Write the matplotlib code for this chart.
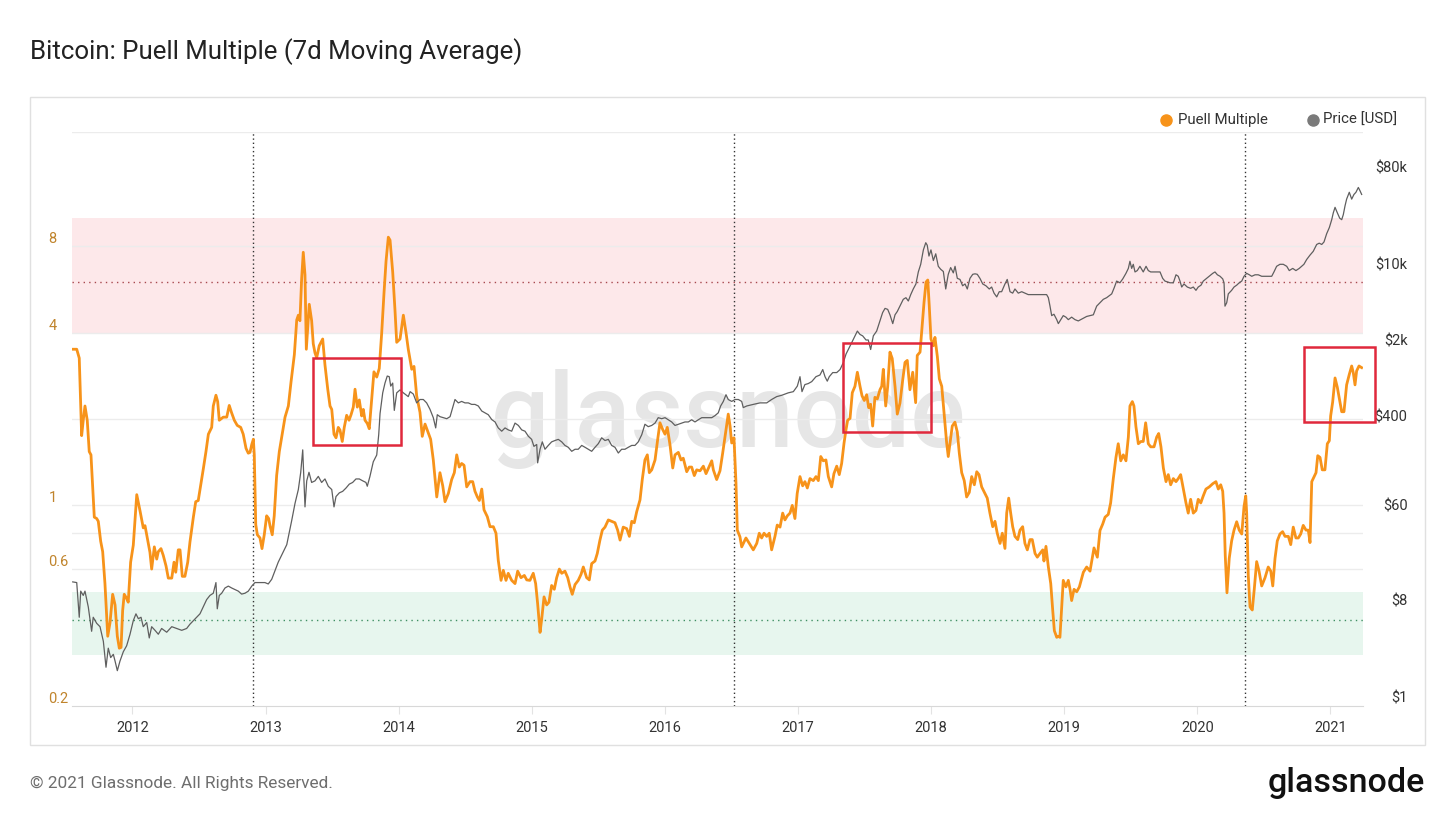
import numpy as np
import matplotlib
matplotlib.use('Agg')
import matplotlib.pyplot as plt
from matplotlib.patches import Rectangle
from matplotlib.lines import Line2D

plt.rcParams['font.family'] = ['Roboto', 'DejaVu Sans']

# Puell Multiple (7d MA): decimal year, value
puell_year = [
    2011.555, 2011.581, 2011.600, 2011.618, 2011.630, 2011.643, 2011.660, 2011.675, 2011.688, 2011.713,
    2011.731, 2011.743, 2011.761, 2011.776, 2011.793, 2011.814, 2011.831, 2011.851, 2011.869, 2011.886,
    2011.901, 2011.914, 2011.926, 2011.938, 2011.956, 2011.968, 2011.986, 2012.006, 2012.032, 2012.056,
    2012.081, 2012.094, 2012.111, 2012.131, 2012.144, 2012.164, 2012.182, 2012.194, 2012.214, 2012.231,
    2012.252, 2012.269, 2012.295, 2012.312, 2012.325, 2012.344, 2012.357, 2012.374, 2012.394, 2012.415,
    2012.432, 2012.457, 2012.475, 2012.494, 2012.512, 2012.532, 2012.552, 2012.570, 2012.595, 2012.607,
    2012.627, 2012.640, 2012.652, 2012.682, 2012.708, 2012.727, 2012.745, 2012.765, 2012.787, 2012.813,
    2012.832, 2012.853, 2012.870, 2012.883, 2012.896, 2012.908, 2012.915, 2012.926, 2012.938, 2012.958,
    2012.973, 2012.990, 2013.008, 2013.023, 2013.033, 2013.050, 2013.065, 2013.083, 2013.103, 2013.125,
    2013.146, 2013.171, 2013.191, 2013.216, 2013.234, 2013.246, 2013.258, 2013.271, 2013.283, 2013.296,
    2013.306, 2013.328, 2013.346, 2013.358, 2013.371, 2013.384, 2013.403, 2013.429, 2013.446, 2013.467,
    2013.484, 2013.497, 2013.514, 2013.529, 2013.546, 2013.559, 2013.576, 2013.591, 2013.609, 2013.627,
    2013.642, 2013.659, 2013.672, 2013.689, 2013.704, 2013.722, 2013.734, 2013.747, 2013.764, 2013.779,
    2013.797, 2013.814, 2013.835, 2013.854, 2013.872, 2013.890, 2013.905, 2013.922, 2013.935, 2013.955,
    2013.972, 2013.985, 2014.010, 2014.035, 2014.055, 2014.072, 2014.098, 2014.115, 2014.135, 2014.160,
    2014.177, 2014.198, 2014.222, 2014.240, 2014.260, 2014.286, 2014.310, 2014.331, 2014.348, 2014.373,
    2014.398, 2014.418, 2014.436, 2014.455, 2014.473, 2014.491, 2014.511, 2014.536, 2014.556, 2014.573,
    2014.591, 2014.606, 2014.624, 2014.641, 2014.666, 2014.686, 2014.711, 2014.731, 2014.748, 2014.769,
    2014.786, 2014.806, 2014.823, 2014.849, 2014.874, 2014.894, 2014.919, 2014.944, 2014.962, 2014.986,
    2015.011, 2015.029, 2015.044, 2015.062, 2015.074, 2015.092, 2015.112, 2015.129, 2015.149, 2015.169,
    2015.187, 2015.207, 2015.225, 2015.249, 2015.270, 2015.287, 2015.304, 2015.325, 2015.349, 2015.370,
    2015.387, 2015.412, 2015.432, 2015.450, 2015.475, 2015.492, 2015.512, 2015.530, 2015.550, 2015.575,
    2015.600, 2015.625, 2015.645, 2015.663, 2015.687, 2015.713, 2015.733, 2015.751, 2015.770, 2015.788,
    2015.813, 2015.830, 2015.850, 2015.868, 2015.883, 2015.901, 2015.926, 2015.946, 2015.963, 2015.983,
    2016.001, 2016.018, 2016.038, 2016.059, 2016.076, 2016.101, 2016.121, 2016.138, 2016.164, 2016.183,
    2016.201, 2016.221, 2016.239, 2016.264, 2016.289, 2016.309, 2016.331, 2016.352, 2016.364, 2016.389,
    2016.414, 2016.434, 2016.452, 2016.476, 2016.489, 2016.502, 2016.519, 2016.534, 2016.544, 2016.564,
    2016.577, 2016.589, 2016.609, 2016.634, 2016.664, 2016.690, 2016.709, 2016.727, 2016.745, 2016.765,
    2016.784, 2016.802, 2016.827, 2016.844, 2016.865, 2016.885, 2016.902, 2016.920, 2016.940, 2016.957,
    2016.977, 2016.994, 2017.015, 2017.035, 2017.052, 2017.070, 2017.090, 2017.115, 2017.135, 2017.153,
    2017.171, 2017.190, 2017.210, 2017.228, 2017.253, 2017.270, 2017.291, 2017.310, 2017.328, 2017.346,
    2017.361, 2017.373, 2017.391, 2017.408, 2017.428, 2017.446, 2017.466, 2017.481, 2017.498, 2017.516,
    2017.531, 2017.546, 2017.561, 2017.578, 2017.596, 2017.616, 2017.629, 2017.641, 2017.659, 2017.674,
    2017.691, 2017.708, 2017.729, 2017.746, 2017.766, 2017.786, 2017.804, 2017.821, 2017.841, 2017.862,
    2017.884, 2017.896, 2017.917, 2017.929, 2017.947, 2017.962, 2017.975, 2017.986, 2017.999, 2018.017,
    2018.029, 2018.047, 2018.062, 2018.080, 2018.097, 2018.117, 2018.129, 2018.142, 2018.159, 2018.179,
    2018.197, 2018.212, 2018.230, 2018.249, 2018.267, 2018.287, 2018.305, 2018.325, 2018.343, 2018.360,
    2018.380, 2018.405, 2018.422, 2018.442, 2018.463, 2018.480, 2018.497, 2018.518, 2018.535, 2018.555,
    2018.568, 2018.583, 2018.598, 2018.613, 2018.630, 2018.651, 2018.668, 2018.688, 2018.705, 2018.723,
    2018.743, 2018.760, 2018.781, 2018.798, 2018.818, 2018.839, 2018.848, 2018.863, 2018.881, 2018.899,
    2018.914, 2018.926, 2018.944, 2018.956, 2018.968, 2018.981, 2018.993, 2019.013, 2019.031, 2019.044,
    2019.056, 2019.074, 2019.094, 2019.114, 2019.144, 2019.169, 2019.194, 2019.224, 2019.249, 2019.269,
    2019.289, 2019.307, 2019.331, 2019.349, 2019.369, 2019.389, 2019.406, 2019.425, 2019.444, 2019.464,
    2019.482, 2019.494, 2019.512, 2019.524, 2019.539, 2019.557, 2019.577, 2019.594, 2019.612, 2019.632,
    2019.650, 2019.675, 2019.695, 2019.710, 2019.727, 2019.745, 2019.765, 2019.782, 2019.800, 2019.820,
    2019.840, 2019.857, 2019.875, 2019.895, 2019.915, 2019.932, 2019.950, 2019.970, 2019.990, 2020.007,
    2020.026, 2020.045, 2020.065, 2020.090, 2020.116, 2020.140, 2020.158, 2020.176, 2020.191, 2020.201,
    2020.210, 2020.223, 2020.240, 2020.258, 2020.276, 2020.296, 2020.315, 2020.334, 2020.351, 2020.364,
    2020.371, 2020.383, 2020.396, 2020.413, 2020.428, 2020.446, 2020.464, 2020.484, 2020.509, 2020.533,
    2020.552, 2020.567, 2020.584, 2020.601, 2020.621, 2020.641, 2020.659, 2020.684, 2020.702, 2020.721,
    2020.741, 2020.759, 2020.777, 2020.796, 2020.817, 2020.834, 2020.847, 2020.860, 2020.871, 2020.892,
    2020.905, 2020.922, 2020.939, 2020.959, 2020.977, 2020.992, 2021.002, 2021.017, 2021.035, 2021.052,
    2021.072, 2021.085, 2021.102, 2021.122, 2021.142, 2021.160, 2021.172, 2021.185, 2021.197, 2021.215,
    2021.235,
]
puell_val = [
    3.5, 3.5, 3.26, 1.75, 1.98, 2.22, 1.98, 1.54, 1.50, 0.91,
    0.90, 0.88, 0.75, 0.69, 0.535, 0.35, 0.39, 0.49, 0.45, 0.35,
    0.318, 0.32, 0.43, 0.49, 0.474, 0.46, 0.634, 0.727, 1.09, 0.96,
    0.835, 0.85, 0.77, 0.687, 0.60, 0.717, 0.65, 0.69, 0.707, 0.67,
    0.615, 0.558, 0.558, 0.634, 0.585, 0.70, 0.70, 0.566, 0.566, 0.634,
    0.747, 0.908, 1.03, 1.04, 1.17, 1.34, 1.54, 1.77, 1.87, 2.22,
    2.42, 2.3, 1.98, 2.03, 2.03, 2.23, 2.1, 1.98, 1.90, 1.87,
    1.77, 1.58, 1.52, 1.53, 1.63, 1.70, 1.5, 0.858, 0.79, 0.77,
    0.707, 0.79, 0.92, 0.90, 0.85, 0.79, 0.92, 1.27, 1.54, 1.77,
    2.03, 2.22, 2.69, 3.35, 4.43, 4.6, 4.4, 6.18, 7.62, 6.36,
    3.5, 5.02, 4.4, 3.66, 3.4, 3.27, 3.6, 3.8, 3.09, 2.54,
    2.22, 2.16, 1.77, 1.72, 1.87, 1.83, 1.67, 1.87, 2.06, 1.98,
    2.07, 2.2, 2.54, 2.2, 2.33, 2.05, 2.16, 1.98, 1.93, 1.85,
    2.33, 2.92, 2.8, 3.0, 3.97, 5.53, 7.1, 8.6, 8.4, 6.5,
    4.8, 3.7, 3.8, 4.6, 4.0, 3.5, 2.98, 3.05, 2.41, 2.11,
    1.74, 1.92, 1.79, 1.70, 1.44, 1.07, 1.30, 1.17, 1.03, 1.10,
    1.23, 1.30, 1.50, 1.36, 1.40, 1.38, 1.16, 1.21, 1.21, 1.12,
    1.07, 1.04, 1.14, 0.965, 0.913, 0.843, 0.843, 0.80, 0.644, 0.548,
    0.594, 0.548, 0.58, 0.548, 0.534, 0.59, 0.56, 0.57, 0.55, 0.548,
    0.58, 0.534, 0.454, 0.361, 0.40, 0.48, 0.45, 0.46, 0.526, 0.51,
    0.56, 0.60, 0.58, 0.59, 0.56, 0.52, 0.49, 0.53, 0.548, 0.575,
    0.61, 0.56, 0.55, 0.627, 0.64, 0.68, 0.757, 0.82, 0.84, 0.89,
    0.88, 0.87, 0.82, 0.757, 0.84, 0.83, 0.78, 0.88, 0.87, 0.95,
    1.045, 1.23, 1.44, 1.50, 1.30, 1.33, 1.44, 1.70, 1.94, 1.84,
    1.77, 1.87, 1.63, 1.35, 1.5, 1.53, 1.44, 1.46, 1.31, 1.36,
    1.36, 1.27, 1.33, 1.32, 1.37, 1.29, 1.36, 1.43, 1.33, 1.23,
    1.32, 1.52, 1.74, 2.08, 1.9, 1.65, 1.72, 1.2, 0.82, 0.777,
    0.717, 0.737, 0.77, 0.737, 0.70, 0.737, 0.80, 0.77, 0.80, 0.78,
    0.80, 0.70, 0.78, 0.854, 0.84, 0.94, 0.89, 0.92, 0.94, 1.0,
    0.90, 1.10, 1.26, 1.17, 1.21, 1.15, 1.24, 1.22, 1.26, 1.22,
    1.48, 1.43, 1.44, 1.26, 1.16, 1.29, 1.37, 1.28, 1.40, 1.65,
    1.84, 1.98, 2.01, 2.47, 2.6, 2.91, 2.6, 2.41, 2.32, 2.43,
    2.19, 2.25, 1.89, 2.38, 2.35, 2.53, 2.6, 2.98, 2.22, 2.6,
    3.42, 3.25, 2.6, 2.08, 2.27, 2.72, 3.15, 3.2, 2.53, 2.91,
    2.28, 3.33, 3.42, 4.0, 5.1, 6.0, 6.1, 4.98, 3.8, 3.6,
    3.85, 3.3, 2.76, 2.6, 2.1, 1.65, 1.48, 1.65, 1.89, 1.95,
    1.8, 1.52, 1.30, 1.22, 1.07, 1.11, 1.26, 1.18, 1.31, 1.28,
    1.16, 1.1, 1.06, 0.94, 0.843, 0.88, 0.80, 0.737, 0.80, 0.708,
    0.94, 1.06, 0.94, 0.843, 0.78, 0.76, 0.82, 0.843, 0.737, 0.70,
    0.76, 0.76, 0.68, 0.66, 0.68, 0.70, 0.64, 0.72, 0.61, 0.534,
    0.43, 0.366, 0.347, 0.35, 0.347, 0.44, 0.548, 0.52, 0.548, 0.51,
    0.466, 0.51, 0.50, 0.52, 0.585, 0.61, 0.59, 0.711, 0.66, 0.818,
    0.86, 0.91, 0.93, 1.02, 1.24, 1.47, 1.64, 1.43, 1.50, 1.43,
    1.73, 2.22, 2.3, 2.22, 1.88, 1.64, 1.67, 1.67, 1.94, 1.64,
    1.60, 1.60, 1.73, 1.78, 1.60, 1.35, 1.21, 1.28, 1.18, 1.24,
    1.21, 1.24, 1.28, 1.14, 1.02, 0.94, 1.05, 0.94, 0.96, 1.05,
    1.02, 1.08, 1.14, 1.16, 1.19, 1.21, 1.14, 1.18, 1.12, 0.94,
    0.67, 0.496, 0.654, 0.752, 0.82, 0.877, 0.82, 0.795, 0.99, 1.08,
    0.94, 0.57, 0.443, 0.432, 0.51, 0.637, 0.59, 0.524, 0.56, 0.61,
    0.59, 0.524, 0.654, 0.752, 0.795, 0.81, 0.78, 0.78, 0.73, 0.84,
    0.77, 0.77, 0.795, 0.852, 0.82, 0.82, 0.742, 1.21, 1.24, 1.30,
    1.49, 1.47, 1.33, 1.33, 1.64, 1.68, 2.05, 2.29, 2.78, 2.58,
    2.29, 2.12, 2.12, 2.63, 2.86, 3.06, 2.9, 2.63, 2.94, 3.06,
    3.02,
]

# BTC price [USD]: decimal year, value
price_year = [
    2011.551, 2011.581, 2011.600, 2011.611, 2011.630, 2011.643, 2011.668, 2011.693, 2011.705, 2011.731,
    2011.756, 2011.781, 2011.801, 2011.818, 2011.836, 2011.856, 2011.869, 2011.886, 2011.906, 2011.931,
    2011.956, 2011.981, 2012.006, 2012.026, 2012.044, 2012.064, 2012.081, 2012.107, 2012.126, 2012.144,
    2012.169, 2012.194, 2012.219, 2012.257, 2012.295, 2012.332, 2012.370, 2012.407, 2012.432, 2012.457,
    2012.482, 2012.507, 2012.532, 2012.557, 2012.582, 2012.607, 2012.627, 2012.637, 2012.652, 2012.670,
    2012.695, 2012.720, 2012.745, 2012.770, 2012.795, 2012.820, 2012.845, 2012.870, 2012.896, 2012.920,
    2012.958, 2012.995, 2013.020, 2013.046, 2013.071, 2013.095, 2013.121, 2013.159, 2013.196, 2013.221,
    2013.246, 2013.264, 2013.279, 2013.288, 2013.296, 2013.309, 2013.326, 2013.346, 2013.371, 2013.396,
    2013.421, 2013.446, 2013.471, 2013.497, 2013.514, 2013.529, 2013.554, 2013.579, 2013.604, 2013.629,
    2013.654, 2013.679, 2013.704, 2013.730, 2013.754, 2013.764, 2013.784, 2013.809, 2013.835, 2013.850,
    2013.860, 2013.880, 2013.897, 2013.914, 2013.929, 2013.940, 2013.955, 2013.967, 2013.985, 2014.010,
    2014.035, 2014.072, 2014.086, 2014.110, 2014.135, 2014.160, 2014.185, 2014.210, 2014.235, 2014.260,
    2014.278, 2014.290, 2014.310, 2014.335, 2014.361, 2014.386, 2014.406, 2014.423, 2014.448, 2014.473,
    2014.498, 2014.523, 2014.548, 2014.573, 2014.598, 2014.624, 2014.648, 2014.673, 2014.699, 2014.724,
    2014.748, 2014.774, 2014.799, 2014.823, 2014.849, 2014.874, 2014.899, 2014.924, 2014.949, 2014.974,
    2014.999, 2015.016, 2015.037, 2015.044, 2015.062, 2015.079, 2015.099, 2015.124, 2015.149, 2015.174,
    2015.199, 2015.225, 2015.249, 2015.274, 2015.300, 2015.325, 2015.349, 2015.375, 2015.400, 2015.424,
    2015.450, 2015.475, 2015.500, 2015.525, 2015.550, 2015.575, 2015.600, 2015.625, 2015.650, 2015.675,
    2015.700, 2015.725, 2015.751, 2015.775, 2015.800, 2015.826, 2015.850, 2015.875, 2015.901, 2015.926,
    2015.950, 2015.976, 2016.001, 2016.025, 2016.051, 2016.076, 2016.101, 2016.126, 2016.151, 2016.176,
    2016.201, 2016.226, 2016.251, 2016.277, 2016.301, 2016.326, 2016.352, 2016.376, 2016.401, 2016.419,
    2016.439, 2016.459, 2016.476, 2016.502, 2016.527, 2016.552, 2016.577, 2016.589, 2016.615, 2016.664,
    2016.715, 2016.765, 2016.802, 2016.840, 2016.877, 2016.927, 2016.965, 2016.995, 2017.015, 2017.030,
    2017.052, 2017.077, 2017.103, 2017.135, 2017.165, 2017.186, 2017.203, 2017.220, 2017.235, 2017.261,
    2017.291, 2017.316, 2017.340, 2017.361, 2017.378, 2017.403, 2017.428, 2017.446, 2017.466, 2017.486,
    2017.511, 2017.528, 2017.546, 2017.566, 2017.591, 2017.616, 2017.636, 2017.654, 2017.674, 2017.691,
    2017.712, 2017.729, 2017.746, 2017.766, 2017.791, 2017.811, 2017.829, 2017.847, 2017.866, 2017.886,
    2017.904, 2017.922, 2017.942, 2017.960, 2017.971, 2017.984, 2017.999, 2018.017, 2018.035, 2018.054,
    2018.072, 2018.092, 2018.110, 2018.129, 2018.147, 2018.167, 2018.180, 2018.197, 2018.217, 2018.237,
    2018.255, 2018.272, 2018.292, 2018.313, 2018.330, 2018.347, 2018.367, 2018.388, 2018.412, 2018.437,
    2018.455, 2018.473, 2018.493, 2018.512, 2018.530, 2018.555, 2018.572, 2018.593, 2018.613, 2018.630,
    2018.655, 2018.681, 2018.705, 2018.730, 2018.768, 2018.805, 2018.843, 2018.868, 2018.881, 2018.893,
    2018.906, 2018.923, 2018.944, 2018.956, 2018.974, 2018.993, 2019.013, 2019.031, 2019.056, 2019.081,
    2019.106, 2019.169, 2019.219, 2019.244, 2019.269, 2019.294, 2019.319, 2019.357, 2019.376, 2019.394,
    2019.419, 2019.440, 2019.464, 2019.482, 2019.494, 2019.507, 2019.519, 2019.532, 2019.549, 2019.569,
    2019.594, 2019.615, 2019.632, 2019.650, 2019.695, 2019.720, 2019.740, 2019.757, 2019.795, 2019.820,
    2019.840, 2019.857, 2019.870, 2019.883, 2019.900, 2019.925, 2019.950, 2019.970, 2019.990, 2020.007,
    2020.028, 2020.045, 2020.065, 2020.090, 2020.116, 2020.133, 2020.151, 2020.171, 2020.191, 2020.201,
    2020.208, 2020.221, 2020.233, 2020.258, 2020.276, 2020.296, 2020.315, 2020.334, 2020.351, 2020.371,
    2020.391, 2020.409, 2020.434, 2020.458, 2020.484, 2020.522, 2020.559, 2020.576, 2020.596, 2020.621,
    2020.646, 2020.672, 2020.691, 2020.717, 2020.741, 2020.766, 2020.784, 2020.801, 2020.822, 2020.847,
    2020.871, 2020.897, 2020.916, 2020.935, 2020.952, 2020.972, 2020.992, 2021.010, 2021.022, 2021.035,
    2021.052, 2021.070, 2021.085, 2021.097, 2021.110, 2021.122, 2021.142, 2021.160, 2021.177, 2021.192,
    2021.210, 2021.222, 2021.235,
]
price_val = [
    14.0, 13.8, 6.6, 11.5, 10.5, 11.5, 8.2, 4.9, 6.6, 5.8,
    5.4, 3.96, 2.28, 3.42, 2.8, 3.0, 2.6, 2.12, 2.6, 3.17,
    3.6, 4.58, 6.14, 7.1, 6.4, 6.6, 5.4, 5.9, 4.25, 5.4,
    5.0, 4.6, 5.2, 4.8, 5.4, 5.2, 5.0, 5.2, 5.7, 6.14,
    6.6, 7.1, 8.25, 9.6, 10.5, 11.0, 13.8, 7.9, 10.5, 11.0,
    12.3, 12.8, 12.3, 11.9, 11.5, 10.8, 11.0, 11.5, 12.8, 13.8,
    13.8, 13.8, 13.4, 14.8, 17.8, 21.3, 24.8, 30.9, 51.5, 74.3,
    99.8, 144, 232, 120, 69, 120, 144, 116, 120, 132,
    116, 125, 107, 99.8, 69, 86, 93, 96, 103, 112,
    116, 125, 125, 120, 116, 107, 132, 180, 208, 322,
    503, 780, 960, 1115, 1100, 900, 960, 537, 780, 830,
    780, 720, 800, 760, 630, 677, 677, 630, 550, 460,
    370, 490, 470, 460, 450, 470, 570, 677, 630, 650,
    630, 630, 610, 610, 590, 530, 510, 490, 442, 420,
    370, 345, 370, 355, 345, 410, 390, 355, 345, 310,
    290, 250, 260, 176, 235, 275, 235, 255, 275, 283,
    290, 275, 255, 245, 225, 235, 235, 255, 245, 235,
    225, 245, 265, 300, 283, 290, 255, 245, 217, 235,
    235, 245, 255, 255, 275, 320, 400, 380, 390, 410,
    460, 450, 460, 440, 420, 390, 400, 410, 420, 420,
    440, 420, 440, 460, 460, 460, 460, 480, 510, 590,
    650, 750, 677, 650, 677, 677, 650, 570, 590, 610,
    630, 630, 677, 720, 740, 780, 800, 900, 1100, 800,
    930, 950, 990, 1100, 1140, 1280, 1100, 1000, 1100, 1200,
    1200, 1280, 1480, 1780, 1960, 2260, 2620, 2900, 2700, 2620,
    2400, 2400, 1960, 2620, 2900, 3600, 4300, 4700, 4600, 4100,
    3400, 4100, 4400, 4940, 5700, 5900, 5500, 6300, 7100, 7900,
    10200, 12000, 16300, 19000, 18000, 14300, 16300, 13000, 15000, 11500,
    10800, 10300, 7100, 9700, 11200, 10000, 11500, 8900, 8700, 7600,
    7900, 7100, 8900, 9700, 9800, 9700, 8900, 7900, 7600, 7100,
    7400, 6500, 6000, 6700, 6700, 7900, 8700, 6700, 6500, 7100,
    6500, 6700, 6500, 6300, 6300, 6300, 6300, 6300, 5900, 4960,
    4030, 4150, 3700, 3400, 3700, 4030, 3900, 3700, 3900, 3700,
    3600, 3960, 4100, 4930, 5300, 5700, 5900, 6400, 7300, 8400,
    8100, 8800, 9900, 11000, 12800, 11000, 12000, 10200, 10500, 11500,
    10200, 11500, 10500, 10200, 10200, 10200, 8900, 8400, 8100, 8100,
    9600, 9300, 8400, 7400, 7900, 7400, 7200, 7400, 6900, 7400,
    7700, 8400, 8800, 9300, 9900, 10200, 9600, 9300, 8800, 8100,
    4930, 5300, 6400, 6900, 7400, 7700, 8100, 8400, 9300, 9900,
    9600, 9300, 9600, 9600, 9300, 9300, 9300, 10200, 11500, 12000,
    12000, 11500, 10500, 11000, 10500, 11000, 11500, 12000, 13300, 14600,
    15800, 18300, 18800, 18300, 19300, 23000, 26200, 31000, 35900, 40300,
    35900, 32000, 31000, 34500, 41600, 48000, 55500, 48000, 53000, 55500,
    61500, 57500, 53000,
]

# axis ticks / zones
x_years = list(range(2012, 2022))
puell_ticks = [0.2, 0.6, 1, 4, 8]
puell_tick_labels = ['0.2', '0.6', '1', '4', '8']
puell_grid = [0.6, 0.8, 1, 2, 4, 8, 20]
price_ticks = [1, 8, 60, 400, 2000, 10000, 80000]
price_tick_labels = ['$1', '$8', '$60', '$400', '$2k', '$10k', '$80k']
halvings = [2012.908, 2016.519, 2020.358]
sell_zone = (4, 10)
buy_zone = (0.3, 0.5)
sell_line = 6
buy_line = 0.4
# highlighted boxes: (start year, end year, low, high) in Puell units
boxes = [(2013.358, 2014.017, 1.62, 3.26),
         (2017.338, 2017.999, 1.80, 3.68),
         (2020.801, 2021.335, 1.95, 3.57)]

W, H = 1456, 819
fig = plt.figure(figsize=(W / 100, H / 100), dpi=100)
fig.patch.set_facecolor('white')

# outer frame
fig.patches.append(Rectangle((30 / W, 1 - 745 / H), 1395 / W, 648 / H, transform=fig.transFigure,
                             fill=False, edgecolor='#e0e0e0', lw=1.0))

ax = fig.add_axes([72 / W, 1 - 706 / H, (1363 - 72) / W, (706 - 132) / H])
ax.set_yscale('log')
ax.set_ylim(0.2, 20)
ax.set_xlim(2011.5455, 2021.245)

ax.axhspan(*sell_zone, color='#fde8ea', lw=0, zorder=0)
ax.axhspan(*buy_zone, color='#e7f6ee', lw=0, zorder=0)
for g in puell_grid:
    ax.axhline(g, color='#ececec', lw=1.0, zorder=0.5)
ax.axhline(sell_line, color='#a8484f', lw=1.0, ls=(0, (1, 3)), zorder=0.6)
ax.axhline(buy_line, color='#3f8f63', lw=1.0, ls=(0, (1, 3)), zorder=0.6)
for h in halvings:
    ax.axvline(h, color='#333333', lw=1.0, ls=(0, (1, 2)), zorder=0.7)

# watermark
ax.text(0.5085, 0.4512, 'glassnode', transform=ax.transAxes, ha='center', va='baseline',
        fontsize=74, fontweight='medium', color='#e6e6e6', zorder=0.4)

ax.plot(puell_year, puell_val, color='#f7931a', lw=2.0, zorder=3, solid_joinstyle='round')

ax.set_yticks(puell_ticks)
ax.set_yticklabels(puell_tick_labels)
ax.yaxis.set_minor_locator(matplotlib.ticker.NullLocator())
ax.tick_params(axis='y', length=0, pad=17, labelsize=10.5, labelcolor='#c0842c')
for lab in ax.get_yticklabels():
    lab.set_horizontalalignment('left')
    lab.set_verticalalignment('bottom')

ax.set_xticks(x_years)
ax.set_xticklabels([str(y) for y in x_years])
ax.tick_params(axis='x', length=6, color='#e3e3e3', pad=5, labelsize=10.5, labelcolor='#333333')

for s in ['top', 'left', 'right']:
    ax.spines[s].set_visible(False)
ax.spines['bottom'].set_color('#d8d8d8')

ax2 = ax.twinx()
ax2.set_yscale('log')
ax2.set_ylim(1, 2e5)
ax2.plot(price_year, price_val, color='#5f5f5f', lw=0.9, zorder=2)
ax2.set_yticks(price_ticks)
ax2.set_yticklabels(price_tick_labels)
ax2.yaxis.set_minor_locator(matplotlib.ticker.NullLocator())
ax2.tick_params(axis='y', length=0, pad=32, labelsize=10.5, labelcolor='#333333')
for lab in ax2.get_yticklabels():
    lab.set_horizontalalignment('right')
    lab.set_verticalalignment('bottom')
for s in ax2.spines.values():
    s.set_visible(False)

# red highlight boxes
for x0, x1, lo, hi in boxes:
    ax2.add_patch(Rectangle((x0, lo), x1 - x0, hi - lo, transform=ax.transData, fill=False,
                            edgecolor='#e0283c', lw=1.8, zorder=5, clip_on=False))

# legend
fig.add_artist(Line2D([1166 / W], [1 - 120 / H], marker='o', ms=8, color='#f7931a', ls='none',
                      transform=fig.transFigure))
fig.text(1178 / W, 1 - 120 / H, 'Puell Multiple', fontsize=10.8, color='#333333', va='center', ha='left')
fig.add_artist(Line2D([1313 / W], [1 - 120 / H], marker='o', ms=8, color='#7a7a7a', ls='none',
                      transform=fig.transFigure))
fig.text(1323 / W, 1 - 120 / H, 'Price [USD]', fontsize=10.8, color='#333333', va='center', ha='left')

fig.text(30 / W, 1 - 52 / H, 'Bitcoin: Puell Multiple (7d Moving Average)', fontsize=18.6,
         color='#222222', va='center', ha='left')
fig.text(30 / W, 1 - 783 / H, '\u00a9 2021 Glassnode. All Rights Reserved.', fontsize=12.4,
         color='#6e6e6e', va='center', ha='left')
fig.text(1425 / W, 1 - 792 / H, 'glassnode', fontsize=24.5, fontweight='medium', color='#111111',
         va='baseline', ha='right')

fig.savefig('out.png', dpi=100, facecolor='white')
